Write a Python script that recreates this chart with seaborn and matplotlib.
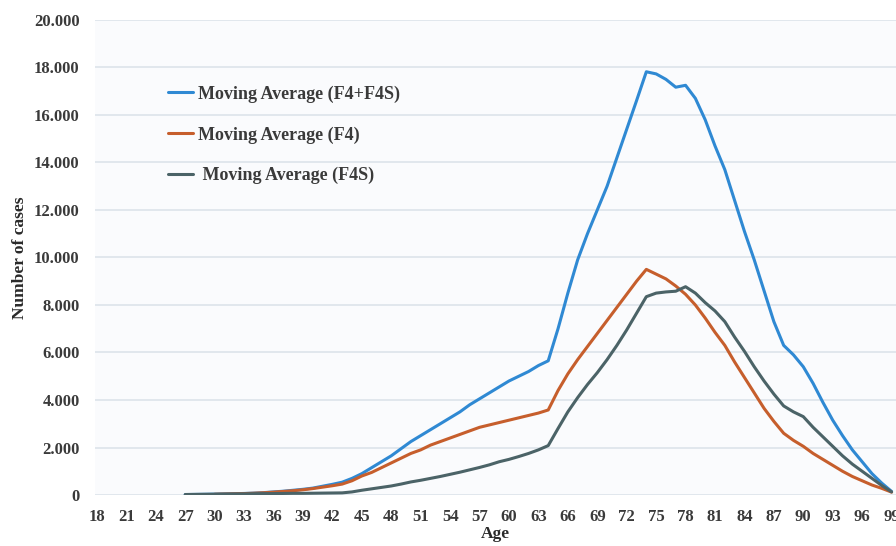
import numpy as np
import pandas as pd
import seaborn as sns
import matplotlib.pyplot as plt
from matplotlib.ticker import FuncFormatter, MultipleLocator

# ages 18..99, no cases before 27
ages = list(range(18, 100))

blue_vals = [np.nan] * 9 + [
    20, 25, 30, 35, 45, 55, 65, 80, 100, 130, 160, 200, 240, 290, 370, 450, 540,  # 27-43
    700, 900, 1150, 1400, 1650, 1950, 2250, 2500, 2750, 3000, 3250,               # 44-54
    3500, 3800, 4050, 4300, 4550, 4800, 5000, 5200, 5450, 5650,                   # 55-64
    7000, 8500, 9900, 11000, 12000, 13000, 14200, 15400, 16600, 17820,            # 65-74
    17730, 17500, 17170, 17250, 16700, 15800, 14700, 13700, 12400, 11100,         # 75-84
    9900, 8600, 7300, 6300, 5900, 5400, 4700, 3900, 3150, 2500, 1900, 1400,       # 85-96
    900, 500, 150,                                                                # 97-99
]
orange_vals = [np.nan] * 12 + [
    30, 40, 50, 60, 75, 95, 120, 150, 180, 220, 270, 330, 390, 460,           # 30-43
    600, 800, 950, 1150, 1350, 1550, 1750, 1900, 2100, 2250, 2400, 2550,       # 44-55
    2700, 2850, 2950, 3050, 3150, 3250, 3350, 3450, 3580,                      # 56-64
    4400, 5100, 5700, 6250, 6800, 7350, 7900, 8450, 9000, 9500,                # 65-74
    9300, 9100, 8800, 8450, 8000, 7450, 6850, 6300, 5600, 4950,                # 75-84
    4300, 3650, 3100, 2600, 2300, 2050, 1750, 1500, 1250, 1000, 780, 600,      # 85-96
    420, 280, 120,                                                             # 97-99
]
gray_vals = [np.nan] * 9 + [
    20, 25, 30, 35, 40, 45, 50, 55, 60, 60, 65, 70, 70, 75, 80, 85,            # 27-42
    90, 130, 200, 260, 320, 380, 460, 550, 620, 700, 780, 870,                 # 43-54
    960, 1060, 1160, 1270, 1400, 1500, 1620, 1750, 1900, 2080,                 # 55-64
    2800, 3500, 4100, 4650, 5150, 5700, 6300, 6950, 7650, 8350,                # 65-74
    8500, 8550, 8580, 8770, 8500, 8100, 7750, 7300, 6650, 6050,                # 75-84
    5400, 4800, 4250, 3750, 3500, 3300, 2850, 2450, 2050, 1650, 1300, 1000,    # 85-96
    700, 400, 130,                                                             # 97-99
]

series_names = ["Moving Average (F4+F4S)", "Moving Average (F4)", " Moving Average (F4S)"]
colors = ["#2f89d3", "#c65e2c", "#4b6367"]

df = pd.concat([
    pd.DataFrame({"Age": ages, "cases": vals, "series": name})
    for name, vals in zip(series_names, [blue_vals, orange_vals, gray_vals])
], ignore_index=True)

sns.set_style("white")
plt.rcParams["font.family"] = ["Liberation Serif", "DejaVu Serif"]

fig = plt.figure(figsize=(8.96, 5.46), dpi=100)
ax = fig.add_axes([0.106, 0.0934, 0.894, 0.87])
fig.patch.set_facecolor("white")
ax.set_facecolor("#fafbfd")

sns.lineplot(data=df, x="Age", y="cases", hue="series", palette=colors,
             linewidth=2.2, ax=ax, legend=True)

ax.set_xlim(17.8, 99.45)
ax.set_ylim(0, 20000)
ax.xaxis.set_major_locator(MultipleLocator(3))
ax.yaxis.set_major_locator(MultipleLocator(2000))
ax.yaxis.set_major_formatter(FuncFormatter(lambda v, p: f"{int(v):,}".replace(",", ".")))
ax.grid(axis="y", color="#dce3ea", linewidth=1.2)
ax.set_axisbelow(True)
for s in ax.spines.values():
    s.set_visible(False)

ax.tick_params(length=0, labelsize=12, labelcolor="#3a3a3a")
ax.tick_params(axis="x", pad=10)
ax.tick_params(axis="y", pad=11)
for lbl in ax.get_xticklabels() + ax.get_yticklabels():
    lbl.set_fontweight("bold")

ax.set_xlabel("Age", fontsize=12.5, fontweight="bold", color="#2a2a2a", labelpad=1)
ax.set_ylabel("Number of cases", fontsize=12.5, fontweight="bold", color="#2a2a2a", labelpad=4)

leg = ax.legend(loc="upper left", bbox_to_anchor=(0.091, 0.862), frameon=False,
                borderaxespad=0, borderpad=0, handlelength=1.4, handletextpad=0.25,
                labelspacing=1.3, prop={"size": 13, "weight": "bold"})
for t in leg.get_texts():
    t.set_color("#3a3a3a")

fig.savefig("out.png", dpi=100, facecolor="white")
plt.close(fig)
